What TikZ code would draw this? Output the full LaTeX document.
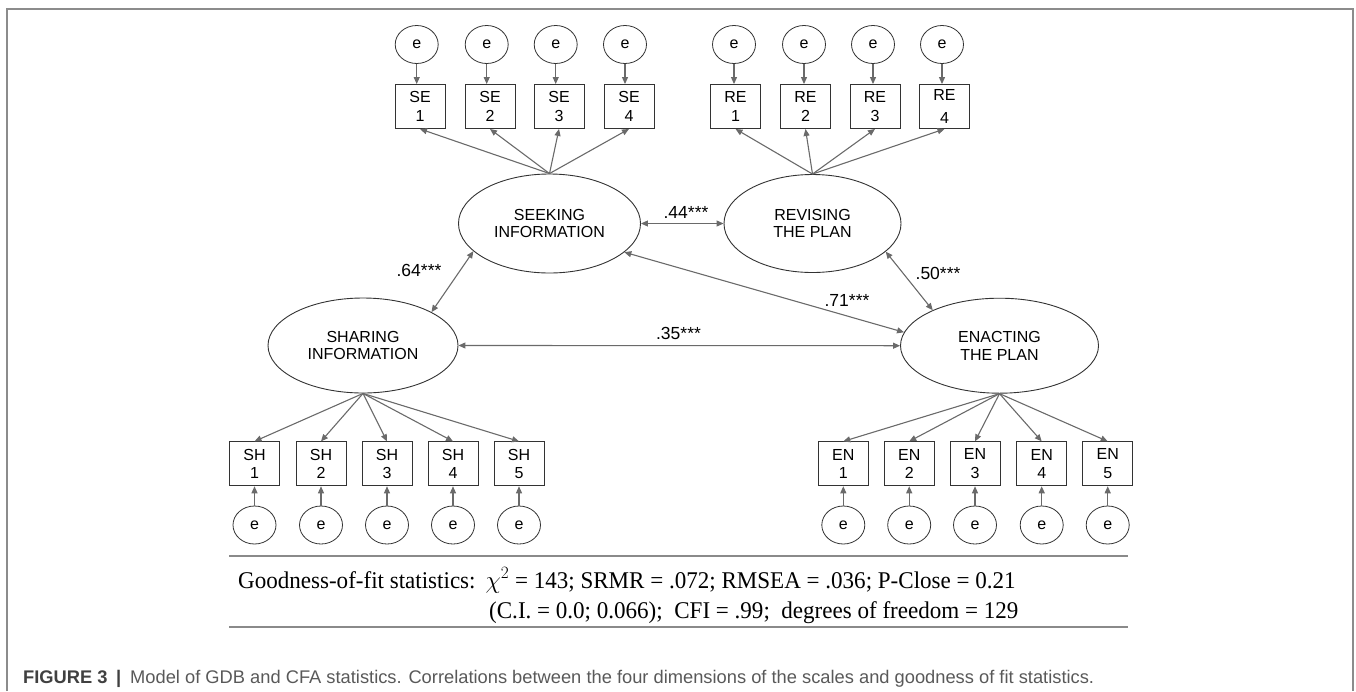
\documentclass[tikz,border=0pt]{standalone}
\usepackage{fontspec}
\setmainfont{Liberation Serif}
\newfontfamily\arial{Liberation Sans}
\newfontfamily\gofserif[FakeStretch=0.96]{Liberation Serif}
\usetikzlibrary{shapes.geometric,arrows.meta}
\definecolor{arrowgray}{HTML}{6A6A6A}
\definecolor{shapeline}{HTML}{333333}
\definecolor{rulegray}{HTML}{8A8A8A}
\definecolor{framegray}{HTML}{8C8C8C}
\definecolor{capdark}{HTML}{404040}
\definecolor{capgray}{HTML}{595959}
\begin{document}
\begin{tikzpicture}[x=1pt,y=-1pt,
  every node/.style={font=\arial\fontsize{16}{17.5}\selectfont},
  latent/.style={ellipse,draw=shapeline,line width=0.9pt,inner sep=0pt,align=center},
  errnode/.style={ellipse,draw=shapeline,line width=0.8pt,minimum width=43pt,minimum height=38pt,inner sep=0pt},
  indicator/.style={rectangle,draw=shapeline,line width=0.9pt,minimum width=50pt,minimum height=44pt,inner sep=0pt,align=center,font=\arial\fontsize{16}{18.5}\selectfont},
  load/.style={draw=arrowgray,line width=1.1pt,-{Triangle[length=7pt,width=6pt]}},
  corr/.style={draw=arrowgray,line width=1.1pt,{Triangle[length=7pt,width=6pt]}-{Triangle[length=7pt,width=6pt]}},
  coef/.style={font=\arial\fontsize{17.5}{19}\selectfont,inner sep=0pt},
  gof/.style={anchor=base west,inner sep=0pt,font=\gofserif\fontsize{24}{28}\selectfont},
  hrule/.style={draw=rulegray,line width=1.3pt},
  frameline/.style={draw=framegray,line width=2pt}]
\useasboundingbox (0,0) rectangle (1356,691);
% frame
\draw[frameline] (7,691) -- (7,9) -- (1353,9) -- (1353,691);

% latent variables
\node[latent,minimum width=182pt,minimum height=99pt] (se) at (549.5,223.5) {SEEKING\\INFORMATION};
\node[latent,minimum width=177pt,minimum height=98pt] (re) at (812.5,223.5) {REVISING\\THE PLAN};
\node[latent,minimum width=190pt,minimum height=95pt] (sh) at (363,345.5) {SHARING\\INFORMATION};
\node[latent,minimum width=198pt,minimum height=95pt] (en) at (999.5,345.7) {ENACTING\\THE PLAN};

% SE indicators
\foreach \i/\ex/\bx in {1/416.7/420,2/486.7/490,3/555.7/559,4/625/629}{
  \node[errnode] (ese\i) at (\ex,44.5) {e};
  \node[indicator] (se\i) at (\bx,106.5) {SE\\\i};
  \draw[load] (ese\i) -- (ese\i.south |- se\i.north);
  \draw[load] (se.north) -- (se\i.south);
}
% RE indicators
\foreach \i/\ex/\bx in {1/734/735.5,2/804/805.5,3/873/875}{
  \node[errnode] (ere\i) at (\ex,44.5) {e};
  \node[indicator] (re\i) at (\bx,106.5) {RE\\\i};
  \draw[load] (ere\i) -- (ere\i.south |- re\i.north);
  \draw[load] (re.north) -- (re\i.south);
}
\node[errnode] (ere4) at (942,44.5) {e};
\node[indicator] (re4) at (944.5,106.5) {RE\\[4pt]4};
\draw[load] (ere4) -- (ere4.south |- re4.north);
\draw[load] (re.north) -- (re4.south);

% SH indicators
\foreach \i/\x in {1/254.5,2/321,3/387,4/453,5/519}{
  \node[indicator] (sh\i) at (\x,463.8) {SH\\\i};
  \node[errnode] (esh\i) at (\x,525) {e};
  \draw[load] (esh\i) -- (esh\i.north |- sh\i.south);
  \draw[load] (sh.south) -- (sh\i.north);
}
% EN indicators
\foreach \i/\x in {1/843.3,2/909.2,3/975,4/1041.7,5/1107.7}{
  \node[indicator] (en\i) at (\x,463.8) {EN\\\i};
  \node[errnode] (een\i) at (\x,525) {e};
  \draw[load] (een\i) -- (een\i.north |- en\i.south);
  \draw[load] (en.south) -- (en\i.north);
}

% correlations
\draw[corr] (se.east) -- (re.west);
\draw[corr] (se.200) -- (sh.26.7);
\draw[corr] (se.-21) -- (en.172.2);
\draw[corr] (re.-21.9) -- (en.152.8);
\draw[corr] (sh.east) -- (en.west);
\node[coef] (c44) at (686,212) {.44***};
\node[coef] (c64) at (419,270) {.64***};
\node[coef] (c35) at (678.5,333) {.35***};
\node[coef] (c71) at (847,300) {.71***};
\node[coef] (c50) at (938,273) {.50***};

% fit statistics
\draw[hrule] (229,556) -- (1128,556);
\draw[hrule] (229,627) -- (1128,627);
\node[gof] (gof1) at (238,588)
  {Goodness-of-fit statistics:\hspace{10pt}$\chi^{2}$ = 143; SRMR = .072; RMSEA = .036; P-Close = 0.21};
\node[gof] (gof2) at (489,618)
  {(C.I. = 0.0; 0.066);\ \ CFI = .99;\ \ degrees of freedom = 129};

% caption
\node[anchor=base west,inner sep=0pt,font=\arial\fontsize{18.3}{20}\selectfont] (cap) at (23,683.5)
  {{\color{capdark}\bfseries FIGURE 3\hspace{8.5pt}|\hspace{9pt}}{\color{capgray}Model of GDB and CFA statistics. Correlations between the four dimensions of the scales and goodness of fit statistics.}};
\end{tikzpicture}
\end{document}
